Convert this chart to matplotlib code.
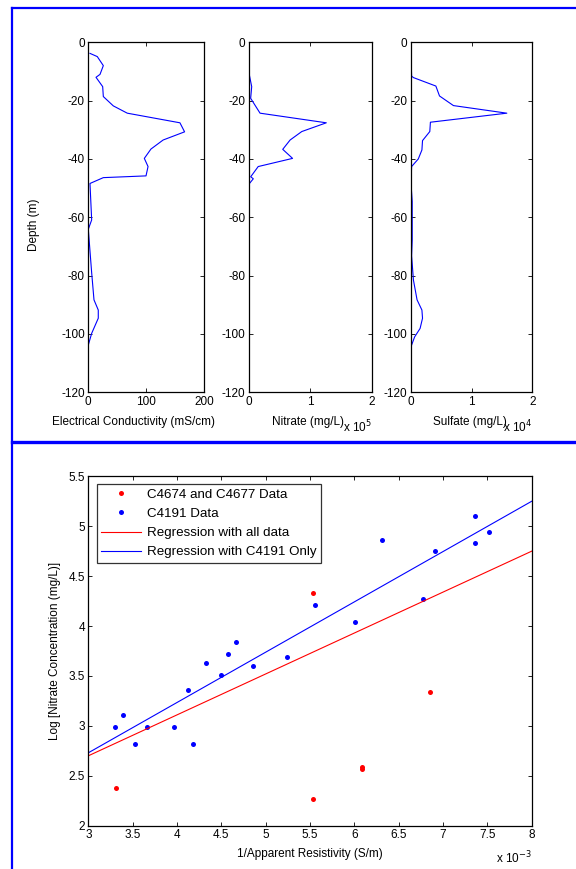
import numpy as np
import matplotlib
matplotlib.use("Agg")
import matplotlib.pyplot as plt
from matplotlib.lines import Line2D

plt.rcParams["font.family"] = ["Liberation Sans", "DejaVu Sans"]
plt.rcParams["font.size"] = 8.5
plt.rcParams["axes.unicode_minus"] = False

# ---- depth profiles (depth in m, values in plotted units) ----
ec_depth = [-3.8, -4.9, -8.0, -11.0, -12.0, -15.2, -18.6, -21.8, -24.3, -27.6,
            -30.7, -33.5, -36.6, -39.8, -42.6, -45.8, -46.4, -48.4, -60.9, -64.1,
            -79.0, -88.3, -91.8, -94.6, -99.8, -103.8]
ec_value = [2.9, 15.5, 25.9, 20.2, 13.3, 24.8, 25.9, 43.1, 67.2, 158.0,
            166.0, 129.0, 108.0, 96.6, 103.0, 99.5, 25.9, 2.9, 5.8, 0.0,
            5.8, 9.8, 17.2, 17.2, 5.8, 0.0]

no3_depth = [-3.2, -10.6, -15.2, -19.2, -24.3, -27.6, -30.6, -33.5, -36.7, -39.8,
             -42.6, -46.1, -46.8, -48.6, -103.8]
no3_value = [0.0, 0.0, 0.044, 0.027, 0.18, 1.26, 0.86, 0.67, 0.55, 0.71,
             0.15, 0.028, 0.07, 0.0, 0.0]

so4_depth = [-4.9, -11.6, -12.1, -15.0, -18.4, -21.7, -24.3, -27.4, -30.6, -33.7,
             -36.9, -40.0, -42.6, -48.4, -54.6, -67.8, -73.2, -81.5, -88.3, -91.8,
             -94.6, -98.1, -101.0, -103.8]
so4_value = [0.0, 0.01, 0.04, 0.41, 0.47, 0.70, 1.58, 0.32, 0.31, 0.19,
             0.18, 0.12, 0.01, 0.0, 0.02, 0.02, 0.01, 0.04, 0.10, 0.18,
             0.19, 0.15, 0.06, 0.01]

# ---- resistivity vs nitrate ----
red_x = [3.31, 5.53, 5.53, 6.85, 6.09, 6.09]
red_y = [2.38, 4.33, 2.27, 3.34, 2.59, 2.565]
blue_x = [3.30, 3.39, 3.53, 3.66, 3.97, 4.12, 4.18, 4.33, 4.50, 4.58, 4.66, 4.86,
          5.24, 5.56, 6.01, 6.31, 6.77, 6.91, 7.36, 7.36, 7.52]
blue_y = [2.99, 3.11, 2.82, 2.99, 2.99, 3.36, 2.82, 3.63, 3.51, 3.72, 3.84, 3.60,
          3.69, 4.21, 4.04, 4.86, 4.27, 4.75, 5.10, 4.83, 4.94]
# regression lines (value at x=3 and at x=8)
line_x = [3, 8]
reg_all = [2.70, 4.75]
reg_c4191 = [2.73, 5.25]

W, H = 576, 869
fig = plt.figure(figsize=(W / 100, H / 100), dpi=100)


def box(l, t, r, b):
    return [l / W, 1 - b / H, (r - l) / W, (b - t) / H]


def matlab_axes(ax):
    ax.tick_params(direction="in", top=True, right=True, length=3, width=0.6,
                   labelsize=8.5, pad=2.5)
    for s in ax.spines.values():
        s.set_linewidth(0.9)


panels = [
    (box(88.3, 42.3, 204.3, 392.3), ec_value, ec_depth, (0, 200), [0, 100, 200],
     "Electrical Conductivity (mS/cm)", None, 0.39),
    (box(249, 42.3, 371.7, 392.3), no3_value, no3_depth, (0, 2), [0, 1, 2],
     "Nitrate (mg/L)", r"x 10$^{5}$", 0.48),
    (box(411, 42.3, 532.3, 392.3), so4_value, so4_depth, (0, 2), [0, 1, 2],
     "Sulfate (mg/L)", r"x 10$^{4}$", 0.485),
]
for rect, xs, ys, xlim, xt, xlabel, mult, lab_x in panels:
    ax = fig.add_axes(rect)
    ax.plot(xs, ys, color="#0000ff", lw=0.8)
    ax.set_xlim(*xlim)
    ax.set_ylim(-120, 0)
    ax.set_xticks(xt)
    ax.set_yticks(range(-120, 1, 20))
    ax.set_xlabel(xlabel)
    ax.xaxis.set_label_coords(lab_x, -0.068, transform=ax.transAxes)
    ax.xaxis.label.set_va("top")
    matlab_axes(ax)
    if mult:
        ax.text(1.0, -0.113, mult, transform=ax.transAxes, ha="right", va="baseline",
                fontsize=8.5)

fig.text(34 / W, 1 - 225 / H, "Depth (m)", rotation=90, ha="center", va="center",
         fontsize=8.5)

ax = fig.add_axes(box(88.3, 476.3, 531.7, 825.7))
ax.plot(red_x, red_y, "o", color="#ff0000", ms=3.6, mec="none",
        label="C4674 and C4677 Data")
ax.plot(blue_x, blue_y, "o", color="#0000ff", ms=3.6, mec="none", label="C4191 Data")
ax.plot(line_x, reg_all, color="#ff0000", lw=0.8, label="Regression with all data")
ax.plot(line_x, reg_c4191, color="#0000ff", lw=0.8, label="Regression with C4191 Only")
ax.set_xlim(3, 8)
ax.set_ylim(2, 5.5)
ax.set_xticks(np.arange(3, 8.01, 0.5))
ax.set_xticklabels(["3", "3.5", "4", "4.5", "5", "5.5", "6", "6.5", "7", "7.5", "8"])
ax.set_yticks(np.arange(2, 5.51, 0.5))
ax.set_yticklabels(["2", "2.5", "3", "3.5", "4", "4.5", "5", "5.5"])
ax.set_xlabel("1/Apparent Resistivity (S/m)", labelpad=5)
ax.set_ylabel("Log [Nitrate Concentration (mg/L)]", labelpad=5)
matlab_axes(ax)
leg = ax.legend(loc="upper left", bbox_to_anchor=(0.0190, 0.979), fontsize=9.6,
                frameon=True, fancybox=False, edgecolor="black", borderpad=0.35,
                handlelength=3.0, handletextpad=0.4, labelspacing=0.52,
                borderaxespad=0)
leg.get_frame().set_linewidth(0.9)
ax.text(1.0, -0.107, r"x 10$^{-3}$", transform=ax.transAxes, ha="right",
        va="baseline", fontsize=8.5)

# blue frame lines
blue = "#0000ff"
fig.add_artist(Line2D([11.5 / W, 1], [1 - 7.5 / H, 1 - 7.5 / H], color=blue, lw=1.6,
                      transform=fig.transFigure))
fig.add_artist(Line2D([11.5 / W, 11.5 / W], [0, 1 - 7.5 / H], color=blue, lw=1.6,
                      transform=fig.transFigure))
fig.add_artist(Line2D([11.5 / W, 1], [1 - 441.7 / H, 1 - 441.7 / H], color=blue, lw=2.4,
                      transform=fig.transFigure))

fig.savefig("out.png", dpi=100)
